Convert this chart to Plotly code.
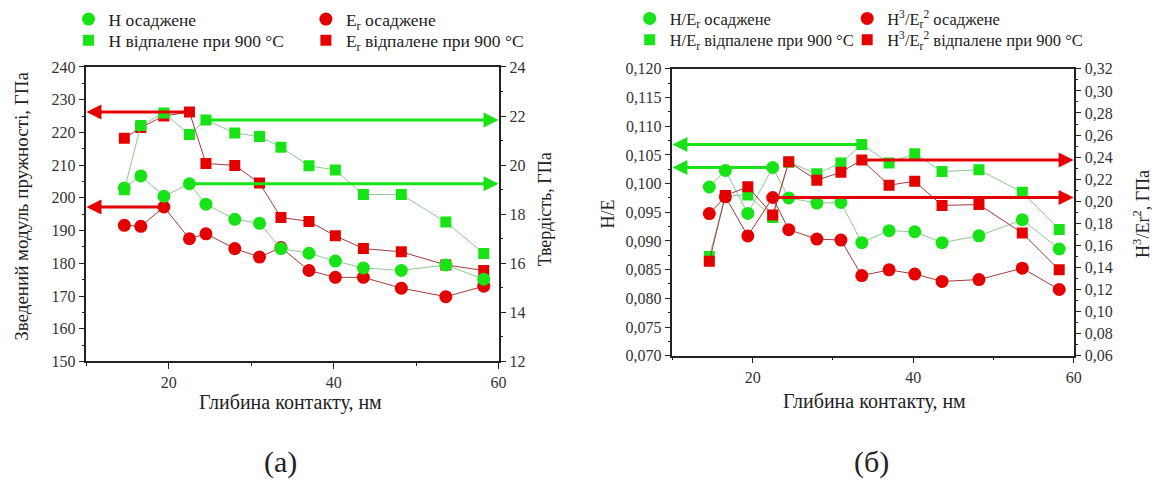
import plotly.graph_objects as go

# ---------------- data ----------------
depth = [14.6, 16.6, 19.4, 22.5, 24.5, 28.0, 31.0, 33.6, 37.0, 40.2, 43.6, 48.2, 53.6, 58.2]

# panel (a): reduced modulus, GPa (left axis)
er_dep = [191.6, 191.3, 197.2, 187.5, 189.0, 184.5, 181.9, 184.8, 177.8, 175.7, 175.7, 172.4, 169.8, 173.0]
er_ann = [218.2, 221.5, 225.0, 226.2, 210.5, 209.9, 204.5, 194.0, 192.8, 188.4, 184.5, 183.5, 179.5, 177.8]
# panel (a): hardness, GPa (right axis)
h_dep = [19.07, 19.56, 18.73, 19.24, 18.41, 17.79, 17.63, 16.60, 16.41, 16.09, 15.81, 15.71, 15.93, 15.35]
h_ann = [19.00, 21.61, 22.12, 21.25, 21.84, 21.31, 21.16, 20.73, 19.97, 19.80, 18.80, 18.80, 17.68, 16.40]

# panel (б): H/E (left axis)
he_dep = [0.0994, 0.1023, 0.0948, 0.1028, 0.0975, 0.0966, 0.0967, 0.0897, 0.0918, 0.0916, 0.0897, 0.0909, 0.0937, 0.0886]
he_ann = [0.0873, 0.0979, 0.0980, 0.0941, 0.1037, 0.1017, 0.1036, 0.1068, 0.1036, 0.1052, 0.1021, 0.1024, 0.0985, 0.0920]
# panel (б): H^3/E^2, GPa (right axis)
h3e2_dep = [0.1888, 0.2040, 0.1686, 0.2034, 0.1742, 0.1657, 0.1648, 0.1326, 0.1378, 0.1340, 0.1273, 0.1290, 0.1393, 0.1200]
h3e2_ann = [0.1455, 0.2052, 0.2131, 0.1876, 0.2357, 0.2190, 0.2263, 0.2374, 0.2146, 0.2181, 0.1962, 0.1970, 0.1712, 0.1378]

names_a = ["H осаджене", "H відпалене при 900 °C",
           "E<sub>r</sub> осаджене", "E<sub>r</sub> відпалене при 900 °C"]
names_b = ["H/E<sub>r</sub> осаджене", "H/E<sub>r</sub> відпалене при 900 °C",
           "H<sup>3</sup>/E<sub>r</sub><sup>2</sup> осаджене",
           "H<sup>3</sup>/E<sub>r</sub><sup>2</sup> відпалене при 900 °C"]

# ---------------- styles ----------------
FONT = "Liberation Serif"
GREEN = "#17e317"
RED = "#e50000"
GLINE = "#8fc88f"
RLINE = "#a23a3a"
W, H = 1176, 497

fig = go.Figure()


def add_series(x, y, xa, ya, color, lcolor, symbol, size, name, legend):
    fig.add_trace(go.Scatter(x=x, y=y, xaxis=xa, yaxis=ya, mode="lines",
                             line=dict(color=lcolor, width=1), showlegend=False,
                             hoverinfo="skip"))
    fig.add_trace(go.Scatter(x=x, y=y, xaxis=xa, yaxis=ya, mode="markers",
                             marker=dict(color=color, symbol=symbol, size=size,
                                         line=dict(width=0)),
                             name=name, legend=legend))


# panel (a)
add_series(depth, er_dep, "x", "y", RED, RLINE, "circle", 13, names_a[2], "legend3")
add_series(depth, er_ann, "x", "y", RED, RLINE, "square", 11, names_a[3], "legend4")
add_series(depth, h_dep, "x", "y2", GREEN, GLINE, "circle", 13, names_a[0], "legend")
add_series(depth, h_ann, "x", "y2", GREEN, GLINE, "square", 11, names_a[1], "legend2")
# panel (б)
add_series(depth, he_dep, "x2", "y3", GREEN, GLINE, "circle", 13, names_b[0], "legend5")
add_series(depth, he_ann, "x2", "y3", GREEN, GLINE, "square", 11, names_b[1], "legend6")
add_series(depth, h3e2_dep, "x2", "y4", RED, RLINE, "circle", 13, names_b[2], "legend7")
add_series(depth, h3e2_ann, "x2", "y4", RED, RLINE, "square", 11, names_b[3], "legend8")

axis_common = dict(showline=True, linecolor="#222", linewidth=1.6, ticks="outside",
                   ticklen=6, tickwidth=1.4, tickcolor="#222", showgrid=False,
                   zeroline=False, tickfont=dict(family=FONT, size=16, color="#333"))

xa_dom = [87 / W, 502 / W]
xb_dom = [677 / W, 1081 / W]
ya_dom = [1 - 366 / H, 1 - 61 / H]
yb_dom = [1 - 360 / H, 1 - 63 / H]

fig.update_layout(
    width=W, height=H, margin=dict(l=0, r=0, t=0, b=0),
    paper_bgcolor="white", plot_bgcolor="white",
    separators=", ",
    font=dict(family=FONT, size=16, color="#222"),
    xaxis=dict(domain=xa_dom, anchor="y", range=[10, 60], dtick=20, tick0=0,
               mirror=True, minor=dict(dtick=10, ticklen=3, tickcolor="#222", ticks="outside"),
               **axis_common),
    yaxis=dict(domain=ya_dom, anchor="x", range=[150, 240], dtick=10,
               minor=dict(dtick=5, ticklen=3, tickcolor="#222", ticks="outside"),
               **axis_common),
    yaxis2=dict(overlaying="y", anchor="x", side="right", range=[12, 24], dtick=2,
                minor=dict(dtick=1, ticklen=3, tickcolor="#222", ticks="outside"),
                **axis_common),
    xaxis2=dict(domain=xb_dom, anchor="y3", range=[10, 60], dtick=20, tick0=0,
                mirror=True, minor=dict(dtick=10, ticklen=3, tickcolor="#222", ticks="outside"),
                **axis_common),
    yaxis3=dict(domain=yb_dom, anchor="x2", range=[0.070, 0.120], dtick=0.005,
                tickformat=".3f",
                minor=dict(dtick=0.0025, ticklen=3, tickcolor="#222", ticks="outside"),
                **axis_common),
    yaxis4=dict(overlaying="y3", anchor="x2", side="right", range=[0.06, 0.32], dtick=0.02,
                tickformat=".2f",
                minor=dict(dtick=0.01, ticklen=3, tickcolor="#222", ticks="outside"),
                **axis_common),
)

leg_common = dict(xref="paper", yref="paper", xanchor="left", yanchor="top",
                  bgcolor="rgba(0,0,0,0)", borderwidth=0, tracegroupgap=0,
                  itemclick=False)
FA = dict(family=FONT, size=17.5, color="#222")
FB = dict(family=FONT, size=16.5, color="#222")
ROW1 = 1 + 7 / H
ROW2 = 1 - 15 / H
fig.update_layout(
    legend=dict(x=69 / W, y=ROW1, font=FA, **leg_common),
    legend2=dict(x=69 / W, y=ROW2, font=FA, **leg_common),
    legend3=dict(x=308 / W, y=ROW1, font=FA, **leg_common),
    legend4=dict(x=308 / W, y=ROW2, font=FA, **leg_common),
    legend5=dict(x=634 / W, y=ROW1, font=FB, **leg_common),
    legend6=dict(x=634 / W, y=ROW2, font=FB, **leg_common),
    legend7=dict(x=853 / W, y=ROW1, font=FB, **leg_common),
    legend8=dict(x=853 / W, y=ROW2, font=FB, **leg_common),
)

# ---------------- arrows ----------------
def arrow(x_tail, y_val, x_head, xref, yref, color):
    fig.add_annotation(x=x_head, y=y_val, ax=x_tail, ay=y_val, xref=xref, yref=yref,
                       axref=xref, ayref=yref, text="", showarrow=True,
                       arrowhead=2, arrowsize=1, arrowwidth=3, arrowcolor=color,
                       standoff=0, startstandoff=0)

# panel (a)
arrow(depth[3], er_ann[3], 10, "x", "y", RED)
arrow(depth[2], er_dep[2], 10, "x", "y", RED)
arrow(depth[4], h_ann[4], 60, "x", "y2", GREEN)
arrow(depth[3], h_dep[3], 60, "x", "y2", GREEN)
# panel (б)
arrow(depth[7], he_ann[7], 10, "x2", "y3", GREEN)
arrow(depth[3], he_dep[3], 10, "x2", "y3", GREEN)
arrow(depth[7], h3e2_ann[7], 60, "x2", "y4", RED)
arrow(depth[3], h3e2_dep[3], 60, "x2", "y4", RED)

# ---------------- titles ----------------
def label(text, px, py, size=17, angle=0):
    fig.add_annotation(x=px / W, y=1 - py / H, xref="paper", yref="paper",
                       text=text, showarrow=False, textangle=angle,
                       xanchor="center", yanchor="middle",
                       font=dict(family=FONT, size=size, color="#222"))

label("Зведений модуль пружності, ГПа", 22, 205, 19, -90)
label("Твердість, ГПа", 549, 208, 18, -90)
label("Глибина контакту, нм", 292, 408, 20)
label("H/E", 612, 213, 18, -90)
label("H<sup>3</sup>/Er<sup>2</sup>, ГПа", 1150, 213, 18, -90)
label("Глибина контакту, нм", 880, 407, 20)
label("(а)", 282, 470, 30)
label("(б)", 877, 470, 30)

fig.write_html("out.html")
